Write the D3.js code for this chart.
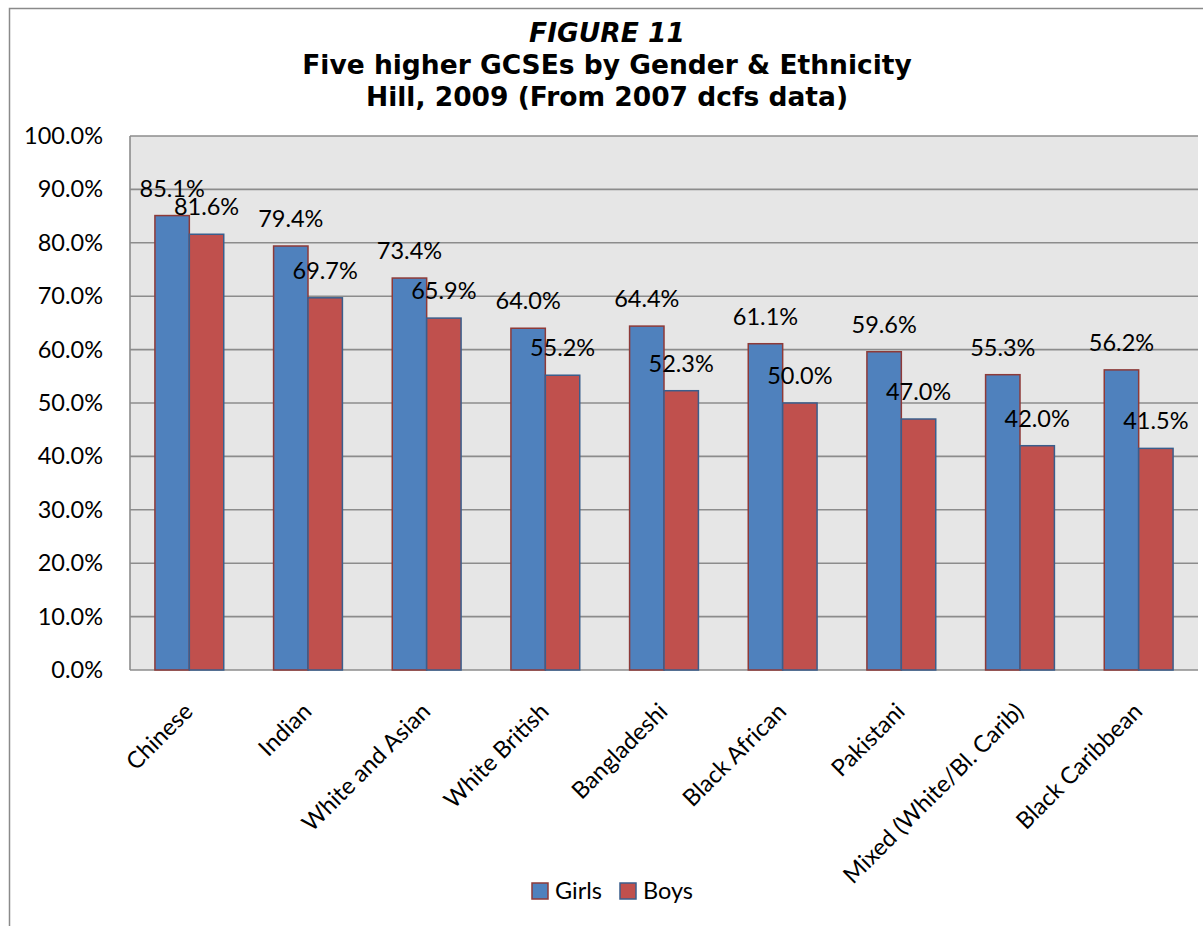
<!DOCTYPE html>
<html>
<head>
<meta charset="utf-8">
<script src="https://cdn.jsdelivr.net/npm/d3@7"></script>
<style>
  html, body { margin: 0; padding: 0; background: #fff; }
  svg { display: block; }
</style>
</head>
<body>
<svg id="chart" width="1203" height="926"></svg>
<script>
// Chart data
const categories = ["Chinese", "Indian", "White and Asian", "White British", "Bangladeshi",
  "Black African", "Pakistani", "Mixed (White/Bl. Carib)", "Black Caribbean"];
const seriesNames = ["Girls", "Boys"];
const girls = [85.1, 79.4, 73.4, 64.0, 64.4, 61.1, 59.6, 55.3, 56.2];
const boys = [81.6, 69.7, 65.9, 55.2, 52.3, 50.0, 47.0, 42.0, 41.5];
const yTicks = [0, 10, 20, 30, 40, 50, 60, 70, 80, 90, 100];
const titleLines = ["FIGURE 11", "Five higher GCSEs by Gender & Ethnicity", "Hill, 2009 (From 2007 dcfs data)"];

const fills = { Girls: "#4f81bd", Boys: "#c0504d" };
const strokes = { Girls: "#8e3a38", Boys: "#3a5e8c" };
const labelFont = "Lato, 'Open Sans', sans-serif";
const labelSize = 23.5;

const svg = d3.select("#chart");
const plot = { left: 130, top: 136, right: 1198, bottom: 670 };

// Outer chart frame (left and top edges visible)
svg.append("path")
  .attr("d", `M9.5,926 V8.5 H1203`)
  .attr("fill", "none")
  .attr("stroke", "#8a8a8a")
  .attr("stroke-width", 1.5);

// Title
const title = svg.append("g").attr("font-family", "'DejaVu Sans', Verdana, sans-serif")
  .attr("font-weight", "bold").attr("font-size", 26.5).attr("text-anchor", "middle").attr("fill", "#000");
titleLines.forEach((t, i) => {
  title.append("text")
    .attr("x", 607)
    .attr("y", 42 + i * 32)
    .attr("font-style", i === 0 ? "italic" : "normal")
    .text(t);
});

// Scales
const x0 = d3.scaleBand().domain(categories).range([plot.left, plot.right])
  .paddingInner(0.42).paddingOuter(0.21);
const x1 = d3.scaleBand().domain(seriesNames).range([0, x0.bandwidth()]);
const y = d3.scaleLinear().domain([0, 100]).range([plot.bottom, plot.top]);

// Plot background
svg.append("rect")
  .attr("x", plot.left).attr("y", plot.top)
  .attr("width", plot.right - plot.left).attr("height", plot.bottom - plot.top)
  .attr("fill", "#e6e6e6");

// Gridlines
svg.append("g").selectAll("line").data(yTicks).join("line")
  .attr("x1", plot.left).attr("x2", plot.right)
  .attr("y1", d => y(d)).attr("y2", d => y(d))
  .attr("stroke", "#8c8c8c").attr("stroke-width", 1.6);

// Plot left edge
svg.append("line")
  .attr("x1", plot.left).attr("x2", plot.left)
  .attr("y1", plot.top).attr("y2", plot.bottom)
  .attr("stroke", "#8c8c8c").attr("stroke-width", 1.6);

// Y axis
const yAxis = svg.append("g")
  .attr("transform", `translate(${plot.left},0)`)
  .call(d3.axisLeft(y).tickValues(yTicks).tickSize(0).tickPadding(27)
    .tickFormat(d => d3.format(".1f")(d) + "%"));
yAxis.select(".domain").remove();
yAxis.selectAll("text")
  .attr("font-family", labelFont).attr("font-size", labelSize).attr("fill", "#000");

// Bars
const rows = categories.map((c, i) => ({ category: c, values: [
  { key: "Girls", value: girls[i] }, { key: "Boys", value: boys[i] }] }));

const groups = svg.append("g").selectAll("g").data(rows).join("g")
  .attr("transform", d => `translate(${x0(d.category)},0)`);

groups.selectAll("rect").data(d => d.values).join("rect")
  .attr("x", d => x1(d.key))
  .attr("y", d => y(d.value))
  .attr("width", x1.bandwidth())
  .attr("height", d => y(0) - y(d.value))
  .attr("fill", d => fills[d.key])
  .attr("stroke", d => strokes[d.key])
  .attr("stroke-width", 1.5);

// Value labels
groups.selectAll("text").data(d => d.values).join("text")
  .attr("x", d => x1(d.key) + x1.bandwidth() / 2)
  .attr("y", d => y(d.value) - 19)
  .attr("text-anchor", "middle")
  .attr("font-family", labelFont).attr("font-size", labelSize).attr("fill", "#000")
  .text(d => d3.format(".1f")(d.value) + "%");

// Category labels
svg.append("g").selectAll("text").data(categories).join("text")
  .attr("transform", d => `translate(${x0(d) + x0.bandwidth() / 2 + 5},${plot.bottom + 43}) rotate(-45)`)
  .attr("text-anchor", "end")
  .attr("font-family", labelFont).attr("font-size", labelSize).attr("fill", "#000")
  .text(d => d);

// Legend
const legend = svg.append("g").attr("transform", "translate(532,883)");
seriesNames.forEach((s, i) => {
  const g = legend.append("g").attr("transform", `translate(${i * 88},0)`);
  g.append("rect").attr("x", 0).attr("y", 0).attr("width", 16).attr("height", 16)
    .attr("fill", fills[s]).attr("stroke", strokes[s]).attr("stroke-width", 1.5);
  g.append("text").attr("x", 23).attr("y", 16)
    .attr("font-family", labelFont).attr("font-size", labelSize).attr("fill", "#000")
    .text(s);
});
</script>
</body>
</html>
